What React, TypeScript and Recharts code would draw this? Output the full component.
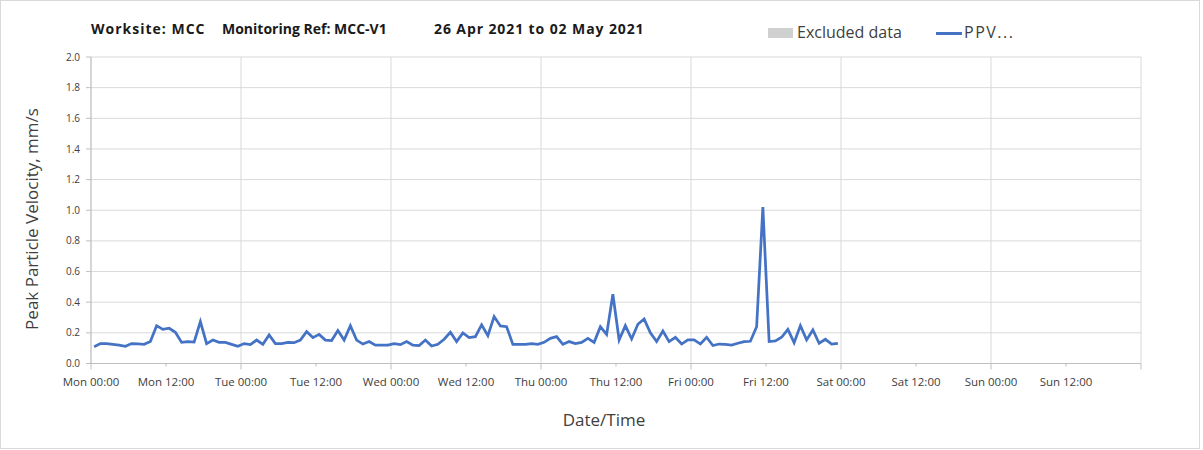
import React from 'react';
import { LineChart, Line, XAxis, YAxis, CartesianGrid } from 'recharts';

const ppv = [
  0.11, 0.13, 0.13, 0.125, 0.12, 0.112, 0.13, 0.128, 0.125, 0.143,
  0.247, 0.223, 0.23, 0.204, 0.138, 0.143, 0.14, 0.273, 0.13, 0.153,
  0.138, 0.138, 0.125, 0.112, 0.13, 0.123, 0.153, 0.125, 0.186, 0.13,
  0.13, 0.138, 0.136, 0.153, 0.208, 0.169, 0.19, 0.153, 0.15, 0.215,
  0.153, 0.247, 0.153, 0.127, 0.143, 0.12, 0.12, 0.12, 0.13, 0.123,
  0.143, 0.12, 0.117, 0.153, 0.114, 0.125, 0.158, 0.204, 0.143, 0.2,
  0.169, 0.175, 0.252, 0.182, 0.306, 0.245, 0.24, 0.125, 0.125, 0.125,
  0.13, 0.125, 0.138, 0.164, 0.175, 0.125, 0.143, 0.13, 0.138, 0.164,
  0.138, 0.24, 0.19, 0.452, 0.153, 0.247, 0.16, 0.256, 0.29, 0.2,
  0.143, 0.212, 0.143, 0.171, 0.127, 0.154, 0.154, 0.127, 0.171, 0.117,
  0.127, 0.125, 0.12, 0.132, 0.143, 0.145, 0.24, 1.02, 0.143, 0.147,
  0.171, 0.223, 0.136, 0.247, 0.154, 0.219, 0.132, 0.158, 0.127, 0.132,
];

const xTickHours = [0, 12, 24, 36, 48, 60, 72, 84, 96, 108, 120, 132, 144, 156, 168];
const xTickLabels = [
  'Mon 00:00', 'Mon 12:00', 'Tue 00:00', 'Tue 12:00', 'Wed 00:00', 'Wed 12:00',
  'Thu 00:00', 'Thu 12:00', 'Fri 00:00', 'Fri 12:00', 'Sat 00:00', 'Sat 12:00',
  'Sun 00:00', 'Sun 12:00', '',
];
const dayGridHours = [0, 24, 48, 72, 96, 120, 144, 168];
const yTicks = [0, 0.2, 0.4, 0.6, 0.8, 1.0, 1.2, 1.4, 1.6, 1.8, 2.0];

const titleParts = ['Worksite: MCC', 'Monitoring Ref: MCC-V1', '26 Apr 2021 to 02 May 2021'];
const legendLabels = ['Excluded data', 'PPV...'];

const data = ppv.map((v, i) => ({ hour: i + 0.5, ppv: v }));

const FONT = '"Open Sans", "DejaVu Sans", sans-serif';
const TEXT = '#404040';
const GRID = '#d9d9d9';
const AXIS = '#bfbfbf';
const BLUE = '#4472C4';

function XTick(props: any) {
  const { x, y, payload } = props;
  const idx = xTickHours.indexOf(payload.value);
  const major = payload.value % 24 === 0;
  return (
    <g>
      <line x1={x} x2={x} y1={y} y2={y + (major ? 6 : 3)} stroke={AXIS} strokeWidth={1} />
      <text x={x} y={y + 22.5} textAnchor="middle" fontSize={11.5} fill={TEXT} fontFamily={FONT}>
        {xTickLabels[idx]}
      </text>
    </g>
  );
}

const titleStyle: React.CSSProperties = {
  position: 'absolute', top: 19, fontSize: 14, fontWeight: 700, color: '#1a1a1a', whiteSpace: 'pre',
};

export default function App() {
  return (
    <div style={{ position: 'absolute', left: 0, top: 0, width: 1203, height: 450, background: '#fff', fontFamily: FONT }}>
      <LineChart
        width={1203}
        height={450}
        data={data}
        margin={{ top: 57, right: 62, left: 0, bottom: 56.5 }}
      >
        <CartesianGrid stroke={GRID} strokeWidth={1} verticalValues={dayGridHours} />
        <XAxis
          dataKey="hour"
          type="number"
          domain={[0, 168]}
          ticks={xTickHours}
          interval={0}
          height={30}
          tickSize={0}
          tickMargin={0}
          tickLine={false}
          axisLine={{ stroke: AXIS }}
          tick={<XTick />}
        />
        <YAxis
          type="number"
          domain={[0, 2]}
          ticks={yTicks}
          interval={0}
          width={91}
          tickSize={5}
          tickMargin={6}
          axisLine={{ stroke: AXIS }}
          tickLine={{ stroke: AXIS }}
          tick={{ fontSize: 10, fill: TEXT, fontFamily: FONT }}
          tickFormatter={(v: number) => v.toFixed(1)}
        />
        <Line
          type="linear"
          dataKey="ppv"
          stroke={BLUE}
          strokeWidth={2.75}
          dot={false}
          isAnimationActive={false}
        />
      </LineChart>

      {/* title */}
      <div style={{ ...titleStyle, left: 91, letterSpacing: 1 }}>{titleParts[0]}</div>
      <div style={{ ...titleStyle, left: 222 }}>{titleParts[1]}</div>
      <div style={{ ...titleStyle, left: 434, letterSpacing: 0.9 }}>{titleParts[2]}</div>

      {/* legend */}
      <div style={{ position: 'absolute', left: 768, top: 28, width: 25, height: 10, background: '#d0d0d0' }} />
      <div style={{ position: 'absolute', left: 797, top: 21, fontSize: 16, color: '#404040', whiteSpace: 'pre' }}>{legendLabels[0]}</div>
      <div style={{ position: 'absolute', left: 936, top: 32, width: 26, height: 3, background: BLUE }} />
      <div style={{ position: 'absolute', left: 964, top: 21, fontSize: 16, color: '#404040', whiteSpace: 'pre', letterSpacing: 1.5 }}>{legendLabels[1]}</div>

      {/* axis titles */}
      <div style={{ position: 'absolute', left: 604, top: 419, transform: 'translate(-50%, -50%)', fontSize: 17, color: '#404040', whiteSpace: 'pre' }}>Date/Time</div>
      <div style={{ position: 'absolute', left: 31, top: 219, transform: 'translate(-50%, -50%) rotate(-90deg)', fontSize: 17, color: '#404040', whiteSpace: 'pre' }}>Peak Particle Velocity, mm/s</div>

      {/* outer frame */}
      <div style={{ position: 'absolute', left: 0, top: 0, width: 1200, height: 449, border: '1px solid #d9d9d9', boxSizing: 'border-box', pointerEvents: 'none' }} />
    </div>
  );
}
